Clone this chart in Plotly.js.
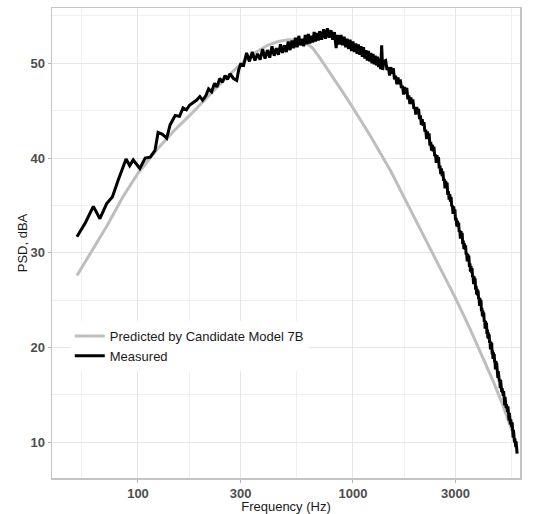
<!DOCTYPE html>
<html>
<head>
<meta charset="utf-8">
<script src="https://cdn.plot.ly/plotly-3.0.1.min.js"></script>
<style>html,body{margin:0;padding:0;background:#fff;}#chart{width:544px;height:514px;}</style>
</head>
<body>
<div id="chart"></div>
<script>
// Predicted by Candidate Model 7B
const predFreq = [52, 60, 72, 85, 100, 122, 146, 174, 200, 250, 300, 350, 400, 450, 500, 550, 600, 650, 700, 800, 900, 1000, 1200, 1500, 2000, 2500, 3000, 3500, 4000, 4500, 5000, 5500];
const predPSD  = [27.6, 30.0, 32.9, 35.9, 38.4, 40.85, 42.8, 44.5, 45.9, 48.2, 49.9, 51.1, 51.9, 52.3, 52.5, 52.5, 52.2, 51.6, 50.6, 48.7, 46.9, 45.3, 42.4, 38.6, 33.0, 28.7, 25.2, 22.0, 19.1, 16.4, 13.8, 11.2];

// Measured
const measFreq = [52, 57, 62, 66.5, 71.5, 76, 81, 88, 91.5, 95, 102, 108, 114, 120, 124, 130, 136, 141, 149, 156, 162, 168, 174, 181, 187, 194, 200, 207, 213, 220, 227, 233, 240, 247, 254, 261, 268, 278, 288, 294,
  300, 310, 320, 330, 340, 350, 360, 370, 380, 390, 400, 410, 420, 430, 440, 450, 460, 470, 480, 490, 500, 510, 520, 530, 540, 550, 560, 570, 580, 590, 600, 610, 620, 630, 640, 650, 660, 670, 680, 690, 700,
  715, 730, 745, 760, 775, 790, 805, 820, 835, 850, 865, 880, 895, 910, 925, 940, 955, 970, 985, 1000, 1015, 1030, 1045, 1060, 1075, 1090, 1105, 1120, 1135, 1150, 1165, 1180, 1195, 1210, 1225, 1240, 1255, 1270, 1285, 1300, 1315, 1330, 1345, 1360, 1375, 1390,
  1420, 1440, 1460, 1480, 1500, 1520, 1540, 1560, 1580, 1600,
  1620, 1640, 1660, 1680, 1700, 1720, 1740, 1760, 1780, 1800,
  1820, 1840, 1860, 1880, 1900, 1920, 1940, 1960, 1980, 2000,
  2020, 2040, 2060, 2080, 2100, 2120, 2140, 2160, 2180, 2200,
  2220, 2240, 2260, 2280, 2300, 2320, 2340, 2360, 2380, 2400,
  2420, 2440, 2460, 2480, 2500, 2520, 2540, 2560, 2580, 2600,
  2620, 2640, 2660, 2680, 2700, 2720, 2740, 2760, 2780, 2800,
  2820, 2840, 2860, 2880, 2900, 2920, 2940, 2960, 2980, 3000,
  3020, 3040, 3060, 3080, 3100, 3120, 3140, 3160, 3180, 3200,
  3220, 3240, 3260, 3280, 3300, 3320, 3340, 3360, 3380, 3400,
  3420, 3440, 3460, 3480, 3500, 3520, 3540, 3560, 3580, 3600,
  3620, 3640, 3660, 3680, 3700, 3720, 3740, 3760, 3780, 3800,
  3820, 3840, 3860, 3880, 3900, 3920, 3940, 3960, 3980, 4000,
  4020, 4040, 4060, 4080, 4100, 4120, 4140, 4160, 4180, 4200,
  4220, 4240, 4260, 4280, 4300, 4320, 4340, 4360, 4380, 4400,
  4420, 4440, 4460, 4480, 4500, 4520, 4540, 4560, 4580, 4600,
  4620, 4640, 4660, 4680, 4700, 4720, 4740, 4760, 4780, 4800,
  4820, 4840, 4860, 4880, 4900, 4920, 4940, 4960, 4980, 5000,
  5020, 5040, 5060, 5080, 5100, 5120, 5140, 5160, 5180, 5200,
  5220, 5240, 5260, 5280, 5300, 5320, 5340, 5360, 5380, 5400,
  5420, 5440, 5460, 5480, 5500, 5520, 5540, 5560, 5580, 5600,
  5620, 5640, 5660, 5680, 5700, 5720, 5740, 5760, 5780, 5800];
const measPSD  = [31.7, 33.2, 34.9, 33.6, 35.2, 35.9, 37.7, 39.9, 39.2, 39.8, 38.9, 40.0, 40.1, 40.8, 42.7, 42.5, 42.1, 43.5, 44.5, 44.4, 45.3, 45.1, 45.6, 45.9, 46.1, 46.5, 46.1, 46.6, 47.3, 47.0, 47.9, 47.5, 48.4, 48.0, 48.7, 48.3, 48.9, 48.4, 48.2, 49.3,
  49.9, 49.8, 51.1, 50.2, 51.2, 50.3, 51.0, 50.4, 51.5, 50.5, 51.4, 50.6, 51.8, 50.8, 51.6, 50.9, 52.0, 51.1, 51.9, 51.2, 52.3, 51.4, 52.4, 51.6, 52.7, 51.7, 52.9, 51.9, 52.6, 51.8, 53.0, 52.0, 53.1, 52.1, 52.9, 52.2, 53.3, 52.3, 53.2, 52.4, 53.4,
  52.5, 53.6, 52.6, 53.7, 52.7, 53.5, 52.5, 53.3, 51.6, 53.0, 52.0, 53.0, 51.9, 52.8, 51.7, 52.6, 51.5, 52.5, 51.3, 52.3, 51.2, 52.1, 51.0, 52.0, 50.9, 51.8, 50.7, 51.7, 50.5, 51.4, 50.3, 51.3, 50.2, 51.1, 50.0, 51.0, 49.9, 50.8, 49.8, 50.7, 49.6, 50.5, 49.4, 51.9, 49.3, 50.2,
  50.3, 49.3, 49.6, 48.7, 49.6, 48.9, 49.5, 48.3, 48.7, 47.8,
  48.5, 47.8, 48.3, 47.4, 47.6, 46.7, 47.5, 46.8, 47.4, 46.2,
  46.6, 45.7, 46.4, 45.7, 46.2, 45.2, 45.4, 44.6, 45.4, 44.7,
  45.2, 44.1, 44.5, 43.5, 44.1, 43.4, 43.8, 42.8, 43.0, 42.0,
  42.8, 42.1, 42.6, 41.3, 41.7, 40.8, 41.4, 40.7, 41.2, 40.2,
  40.4, 39.5, 40.3, 39.6, 40.1, 38.9, 39.2, 38.3, 38.9, 38.1,
  38.6, 37.6, 37.8, 36.8, 37.6, 36.9, 37.4, 36.1, 36.5, 35.6,
  36.2, 35.4, 35.9, 34.9, 35.0, 34.1, 34.9, 34.1, 34.6, 33.4,
  33.7, 32.8, 33.4, 32.7, 33.2, 32.2, 32.4, 31.5, 32.3, 31.6,
  32.1, 30.9, 31.3, 30.4, 31.0, 30.3, 30.8, 29.8, 30.0, 29.1,
  29.9, 29.2, 29.7, 28.5, 28.9, 28.0, 28.6, 27.9, 28.4, 27.4,
  27.6, 26.7, 27.5, 26.8, 27.3, 26.1, 26.5, 25.6, 26.2, 25.5,
  26.0, 25.1, 25.3, 24.4, 25.2, 24.5, 25.0, 23.8, 24.2, 23.3,
  23.9, 23.2, 23.7, 22.7, 22.9, 22.0, 22.8, 22.1, 22.6, 21.4,
  21.9, 21.0, 21.6, 20.9, 21.4, 20.5, 20.7, 19.8, 20.6, 19.9,
  20.5, 19.3, 19.7, 18.8, 19.5, 18.8, 19.3, 18.4, 18.6, 17.7,
  18.6, 17.9, 18.4, 17.2, 17.7, 16.8, 17.5, 16.8, 17.3, 16.4,
  16.6, 15.7, 16.6, 15.9, 16.5, 15.3, 15.7, 14.9, 15.5, 14.9,
  15.4, 14.5, 14.8, 13.9, 14.8, 14.1, 14.7, 13.6, 14.0, 13.2,
  13.8, 13.2, 13.8, 12.8, 13.1, 12.3, 13.1, 12.5, 13.1, 11.9,
  12.4, 11.6, 12.2, 11.6, 12.1, 11.1, 11.3, 10.5, 11.3, 10.6,
  11.2, 10.0, 10.4, 9.6, 10.2, 9.5, 10.1, 9.1, 9.4, 8.8];

// Axis ticks
const xTickVals = [100, 300, 1000, 3000];
const xTickText = ['100', '300', '1000', '3000'];
const xMinorVals = [54.77, 173.2, 547.7, 1732, 5477];
const yTickVals = [10, 20, 30, 40, 50];
const yMinorVals = [15, 25, 35, 45, 55];

const font = '"Liberation Sans", Arial, sans-serif';

const traces = [
  {x: predFreq, y: predPSD, type: 'scatter', mode: 'lines', name: 'Predicted by Candidate Model 7B',
   line: {color: '#bebebe', width: 3}},
  {x: measFreq, y: measPSD, type: 'scatter', mode: 'lines', name: 'Measured',
   line: {color: '#000000', width: 3}}
];

const layout = {
  width: 544, height: 514,
  margin: {l: 52, r: 24, t: 8, b: 36},
  paper_bgcolor: '#ffffff', plot_bgcolor: '#ffffff',
  font: {family: font, size: 13, color: '#1a1a1a'},
  showlegend: true,
  legend: {x: 0.038, xanchor: 'left', y: 0.334, yanchor: 'top', bgcolor: '#ffffff',
           font: {family: font, size: 13, color: '#1a1a1a'}, tracegroupgap: 0},
  xaxis: {
    type: 'log', range: [1.6, 3.777],
    tickmode: 'array', tickvals: xTickVals, ticktext: xTickText,
    ticks: 'outside', ticklen: 3, tickcolor: '#b3b3b3', tickwidth: 1,
    tickfont: {family: font, size: 13, color: '#4d4d4d', weight: 'bold'},
    showgrid: true, gridcolor: '#e6e6e6', gridwidth: 1,
    minor: {tickmode: 'array', tickvals: xMinorVals, showgrid: true, gridcolor: '#efefef', gridwidth: 1, ticks: ''},
    showline: true, mirror: true, linecolor: '#c4c4c4', linewidth: 1.5,
    zeroline: false,
    title: {text: 'Frequency (Hz)', font: {family: font, size: 13, color: '#1a1a1a'}, standoff: 6}
  },
  yaxis: {
    range: [6.23, 55.84],
    tickmode: 'array', tickvals: yTickVals,
    ticks: 'outside', ticklen: 3, tickcolor: '#b3b3b3', tickwidth: 1,
    tickfont: {family: font, size: 13, color: '#4d4d4d', weight: 'bold'},
    showgrid: true, gridcolor: '#e6e6e6', gridwidth: 1,
    minor: {tickmode: 'array', tickvals: yMinorVals, showgrid: true, gridcolor: '#efefef', gridwidth: 1, ticks: ''},
    showline: true, mirror: true, linecolor: '#c4c4c4', linewidth: 1.5,
    zeroline: false,
    title: {text: 'PSD, dBA', font: {family: font, size: 13, color: '#1a1a1a'}, standoff: 0}
  }
};

Plotly.newPlot('chart', traces, layout, {displayModeBar: false, staticPlot: true});
</script>
</body>
</html>
